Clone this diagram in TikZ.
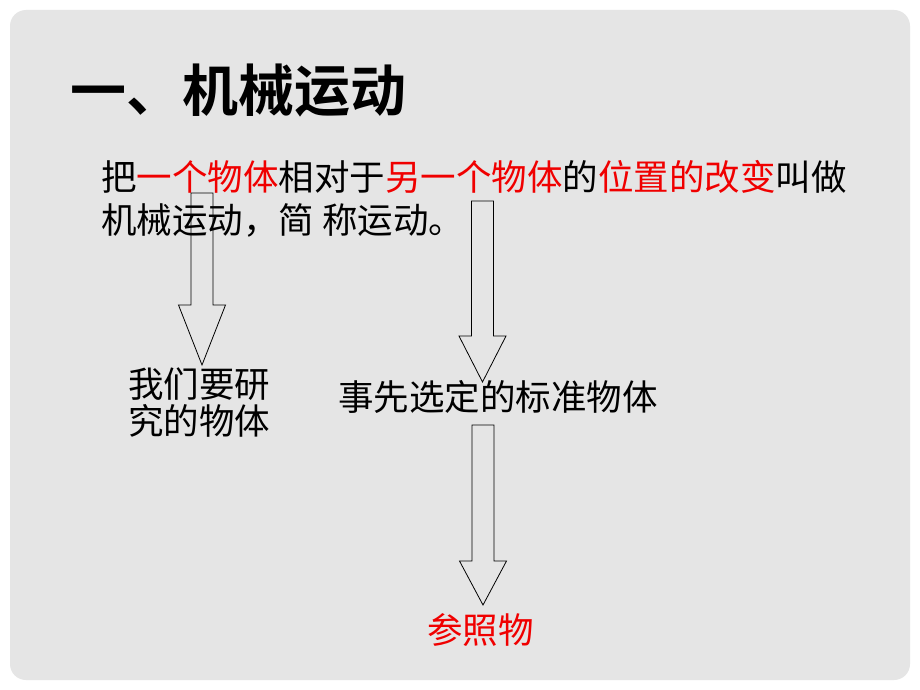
\documentclass[tikz,border=0pt]{standalone}
\usepackage{fontspec}
\newfontfamily\cjk{Noto Sans CJK SC}[BoldFont={Noto Sans CJK SC Bold}]
\usetikzlibrary{positioning}
\definecolor{slide}{RGB}{229,229,229}
\definecolor{hot}{RGB}{240,0,0}

\tikzset{
  body/.style={anchor=base west, inner sep=0pt, font=\cjk\fontsize{35.5}{37}\selectfont},
  blockarrow/.style={draw=black, line width=0.8pt, line join=miter}
}

\begin{document}
\begin{tikzpicture}[x=1pt, y=-1pt]
\useasboundingbox (0, 0) rectangle (920, 690);
\fill[white] (0, 0) rectangle (920, 690);
\fill[slide, rounded corners=16pt] (10, 10) rectangle (910, 680);
% title
\node[anchor=base west, inner sep=0pt, font=\cjk\bfseries\fontsize{56}{60}\selectfont]
  (title) at (70, 112) {一、机械运动};
% definition
\node[body] (line1) at (101, 190)
  {把\textcolor{hot}{一个物体}相对于\textcolor{hot}{另一个物体}的\textcolor{hot}{位置的改变}叫做};
\node[body] (line2) at (101, 233) {机械运动，简 称运动。};
% base of a two-line node is its last line
\node[body, align=left] (object) at (128, 434) {我们要研\\究的物体};
\node[body] (standard) at (338, 410) {事先选定的标准物体};
\node[body, text=hot] (reference) at (427, 643) {参照物};
% hollow arrows: centre x / top / head start / tip
\foreach \cx/\top/\head/\tip in {202/193/305/365, 482.5/201/336/382, 483/425/561/605}
  \draw[blockarrow] (\cx-11, \top) -- (\cx+11, \top) -- (\cx+11, \head)
    -- (\cx+23.5, \head) -- (\cx, \tip) -- (\cx-23.5, \head)
    -- (\cx-11, \head) -- cycle;
\end{tikzpicture}
\end{document}
